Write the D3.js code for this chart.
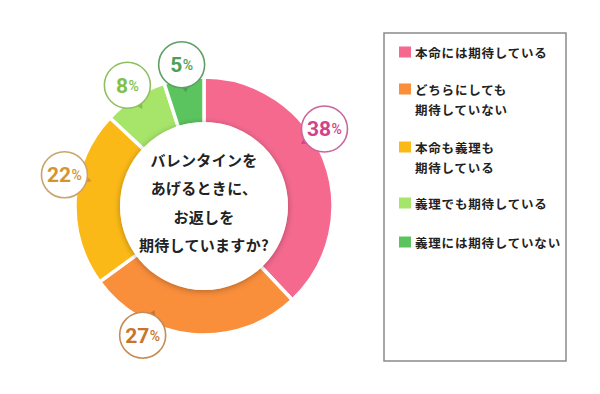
<!DOCTYPE html>
<html><head><meta charset="utf-8">
<script src="https://cdn.jsdelivr.net/npm/d3@7"></script>
<style>
html,body{margin:0;padding:0;background:#fff;}
svg{display:block;}
</style></head>
<body>
<script>
// ---- data ----
const categories = ["本命には期待している", "どちらにしても\n期待していない", "本命も義理も\n期待している", "義理でも期待している", "義理には期待していない"];
const values = [38, 27, 22, 8, 5];
const centerLines = ["バレンタインを", "あげるときに、", "お返しを", "期待していますか?"];

// ---- style ----
const sliceColors = ["#f5698f", "#f98e3b", "#fbb918", "#a6e46a", "#5cc45f"];
const labelText = ["#d2438c", "#c9742c", "#d4962a", "#7fc146", "#4d9f57"];
const labelStroke = ["#c8679c", "#c58a55", "#caa46e", "#8fbf5f", "#5e9f63"];
const labelShiftDeg = [-11, 20, 9, 0, 0];

const W = 600, H = 394;
const svg = d3.select("body").append("svg").attr("width", W).attr("height", H);
const defs = svg.append("defs");
const f = defs.append("filter").attr("id", "sh").attr("x", "-30%").attr("y", "-30%").attr("width", "160%").attr("height", "160%");
f.append("feDropShadow").attr("dx", 0).attr("dy", 1).attr("stdDeviation", 3).attr("flood-color", "#000").attr("flood-opacity", 0.3);

const cx = 204, cy = 206, rOuter = 129, rInner = 82;
const g = svg.append("g").attr("transform", `translate(${cx},${cy})`);

const pie = d3.pie().sort(null).value(d => d)(values);
const arc = d3.arc().innerRadius(rInner).outerRadius(rOuter);
g.selectAll("path.slice").data(pie).join("path")
  .attr("class", "slice")
  .attr("d", arc)
  .attr("fill", (d, i) => sliceColors[i])
  .attr("stroke", "#fff").attr("stroke-width", 3.5).attr("stroke-linejoin", "miter");

// center white circle
g.append("circle").attr("r", rInner + 2).attr("fill", "#fff").attr("filter", "url(#sh)");
const lineH = 28.5;
g.selectAll("text.center").data(centerLines).join("text")
  .attr("class", "center")
  .attr("x", 0)
  .attr("y", (d, i) => (i - (centerLines.length - 1) / 2) * lineH - 4)
  .attr("text-anchor", "middle").attr("dominant-baseline", "central")
  .attr("font-family", "'Noto Sans CJK JP', sans-serif").attr("font-weight", 700)
  .attr("font-size", 15).attr("letter-spacing", 0.3).attr("fill", "#222")
  .text(d => d);

// labels
const rLabel = 143, cr = 23;
pie.forEach((d, i) => {
  const a = (d.startAngle + d.endAngle) / 2 + labelShiftDeg[i] * Math.PI / 180;
  const lx = Math.sin(a) * rLabel, ly = -Math.cos(a) * rLabel;
  const lg = g.append("g").attr("transform", `translate(${lx},${ly})`);
  const ux = -lx / rLabel, uy = -ly / rLabel;
  const px = -uy, py = ux;
  const b = cr - 2, tip = cr + 5, hw = 4;
  lg.append("path")
    .attr("d", `M${ux * b + px * hw},${uy * b + py * hw} L${ux * tip},${uy * tip} L${ux * b - px * hw},${uy * b - py * hw} Z`)
    .attr("fill", labelText[i]);
  lg.append("circle").attr("r", cr).attr("fill", "#fff").attr("stroke", labelStroke[i]).attr("stroke-width", 1.6);
  const t = lg.append("text").attr("text-anchor", "middle").attr("dominant-baseline", "central").attr("y", 0.5)
    .attr("font-family", "Roboto, 'Noto Sans', sans-serif").attr("font-weight", 700).attr("fill", labelText[i]);
  t.append("tspan").attr("font-size", 21).text(values[i]);
  t.append("tspan").attr("font-size", 14).attr("font-weight", 500).attr("dx", 0.5).text("%");
});

// legend
const lgx = 384, lgy = 33, lgw = 182, lgh = 328;
svg.append("rect").attr("x", lgx).attr("y", lgy).attr("width", lgw).attr("height", lgh)
  .attr("fill", "#fff").attr("stroke", "#8a8a8a").attr("stroke-width", 1.5);
const itemY = d3.scaleOrdinal().domain(d3.range(categories.length)).range([52, 89, 147, 203, 242]);
categories.forEach((c, i) => {
  const y = itemY(i);
  svg.append("rect").attr("x", 399).attr("y", y - 5.5).attr("width", 12).attr("height", 11).attr("fill", sliceColors[i]);
  c.split("\n").forEach((ln, j) => {
    svg.append("text").attr("x", 415).attr("y", y + j * 20).attr("dominant-baseline", "central")
      .attr("font-family", "'Noto Sans CJK JP', sans-serif").attr("font-weight", 700)
      .attr("font-size", 12.5).attr("letter-spacing", 0.8).attr("fill", "#222").text(ln);
  });
});
</script>
</body></html>
